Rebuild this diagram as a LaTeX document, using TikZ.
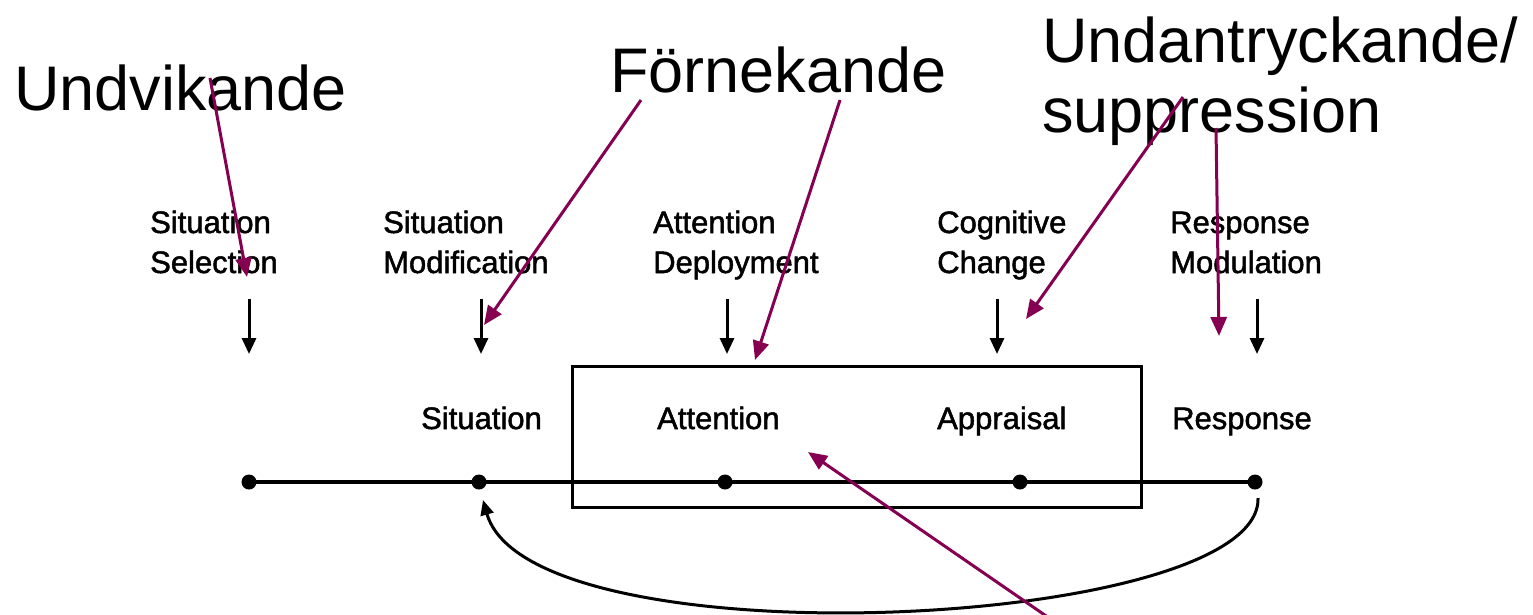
\documentclass[tikz,border=0pt]{standalone}
\usepackage{fontspec}
\setmainfont{Liberation Sans}
\newfontfamily\figlabel{Liberation Sans}[FakeBold=1.6]
\usetikzlibrary{arrows.meta}
\definecolor{plum}{RGB}{134,0,82}
\begin{document}
\begin{tikzpicture}[x=1pt,y=-1pt,
  big/.style={font=\fontsize{63}{70}\selectfont, inner sep=0, anchor=base west},
  stage/.style={font=\figlabel\fontsize{31}{40}\selectfont, inner sep=0, anchor=base west},
  strategy/.style={stage, align=left},
  flow/.style={line width=3pt, -{Triangle[length=16pt,width=14pt]}},
  note/.style={draw=plum, line width=3pt, -{Triangle[length=19pt,width=16pt]}},
  dot/.style={circle, fill=black, inner sep=0, minimum size=15pt}]
\useasboundingbox (0,0) rectangle (1533,614);

% headings for the defence strategies
\node[big] (undv) at (14,110) {Undvikande};
\node[big] (forn) at (610,92) {Förnekande};
\node[big] (undan) at (1042,62) {Undantryckande/};
\node[big] (supp) at (1042,132) {suppression};

% regulation strategies along the top (anchor is the second line's baseline)
\node[strategy] (sel) at (150,273) {Situation\\Selection};
\node[strategy] (mod) at (383,273) {Situation\\Modification};
\node[strategy] (dep) at (653,273) {Attention\\Deployment};
\node[strategy] (cog) at (937,273) {Cognitive\\Change};
\node[strategy] (rmod) at (1170,273) {Response\\Modulation};

% stages of the process
\node[stage] (sit) at (421,429) {Situation};
\node[stage] (att) at (657,429) {Attention};
\node[stage] (app) at (937,429) {Appraisal};
\node[stage] (resp) at (1172,429) {Response};

% box around attention and appraisal
\draw[line width=3pt] (572,366) rectangle (1141,507);

% timeline with its points
\node[dot] (d1) at (249,482) {};
\node[dot] (d2) at (479,482) {};
\node[dot] (d3) at (725,482) {};
\node[dot] (d4) at (1020,482) {};
\node[dot] (d5) at (1255,482) {};
\draw[line width=3.2pt] (d1.center) -- (d5.center);

% feedback loop from response back to situation
\coordinate (loopstart) at (1258,498);
\coordinate (loopend) at (483,500);
\draw[line width=3pt, -{Triangle[length=15pt,width=13pt]}]
  (loopstart) .. controls (1262,630) and (530,665) .. (loopend);

% downward arrows from each strategy
\coordinate (a1) at (249,299); \coordinate (b1) at (249,354);
\coordinate (a2) at (481,299); \coordinate (b2) at (481,354);
\coordinate (a3) at (727,299); \coordinate (b3) at (727,354);
\coordinate (a4) at (997,299); \coordinate (b4) at (997,354);
\coordinate (a5) at (1257,299); \coordinate (b5) at (1257,354);
\foreach \i in {1,...,5} \draw[flow] (a\i) -- (b\i);

% pointers from the headings
\coordinate (p1) at (210,78);   \coordinate (q1) at (247,277);
\coordinate (p2) at (641,100);  \coordinate (q2) at (484,325);
\coordinate (p3) at (840,100);  \coordinate (q3) at (755,360);
\coordinate (p4) at (1183,97);  \coordinate (q4) at (1026,319);
\coordinate (p5) at (1216,128); \coordinate (q5) at (1219,336);
\coordinate (p6) at (1052,620); \coordinate (q6) at (808,452);
\foreach \i in {1,...,6} \draw[note] (p\i) -- (q\i);
\end{tikzpicture}
\end{document}
